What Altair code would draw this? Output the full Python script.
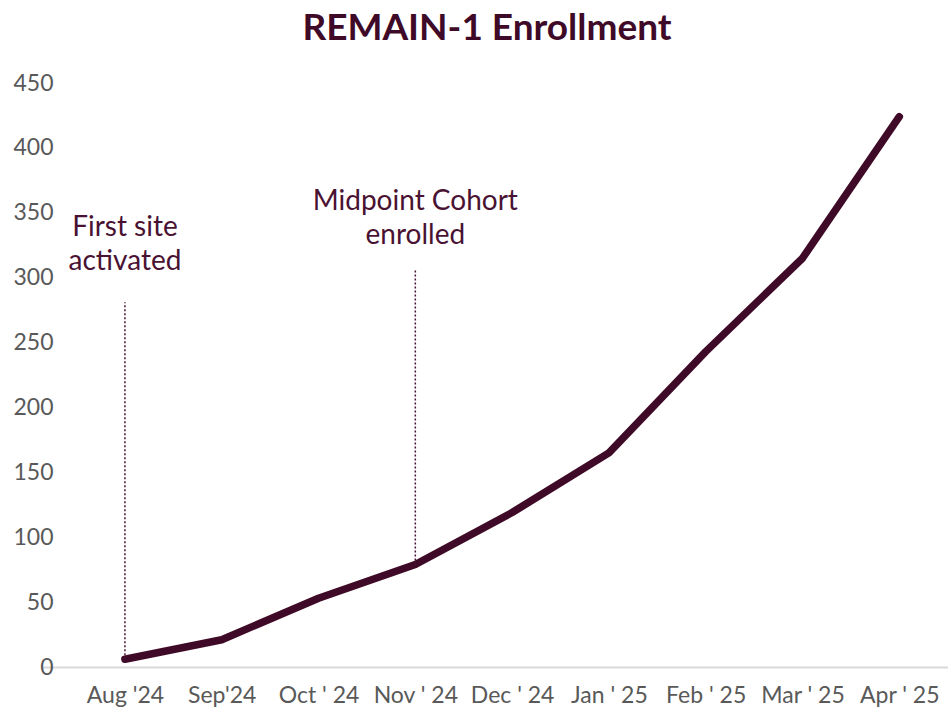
import altair as alt
import pandas as pd

# Monthly cumulative enrollment
months = ["Aug '24", "Sep'24", "Oct ' 24", "Nov ' 24", "Dec ' 24",
          "Jan ' 25", "Feb ' 25", "Mar ' 25", "Apr ' 25"]
enrolled = [6, 21, 53, 79, 119, 165, 243, 315, 424]

# Milestone annotations
note_months = ["Aug '24", "Nov ' 24"]
note_texts = [["First site", "activated"], ["Midpoint Cohort", "enrolled"]]
note_text_y = [338, 358]
note_rule_bottom = [6, 79]
note_rule_top = [281, 306]

MAROON = "#3E0A27"
TEXT_MAROON = "#4A1232"
FONT = "Lato"

df = pd.DataFrame({"month": months, "enrolled": enrolled})
notes = pd.DataFrame({
    "month": note_months,
    "label": note_texts,
    "ty": note_text_y,
    "y0": note_rule_bottom,
    "y1": note_rule_top,
})

x_scale = alt.Scale(type="point", padding=0.68, align=0.63)
x_axis = alt.Axis(
    title=None, labelAngle=0, ticks=False, grid=False,
    domain=True, domainColor="#D9D9D9", domainWidth=2,
    labelFont=FONT, labelFontSize=23, labelColor="#595959",
    labelPadding=17,
)
y_scale = alt.Scale(domain=[0, 450], nice=False)
y_axis = alt.Axis(
    title=None, values=list(range(0, 451, 50)), ticks=False,
    domain=False, grid=False, labelFont=FONT, labelFontSize=23,
    labelColor="#595959", offset=-16, labelPadding=5,
)

line = alt.Chart(df).mark_line(
    color=MAROON, strokeWidth=7.5, strokeCap="round", strokeJoin="round"
).encode(
    x=alt.X("month:N", sort=months, scale=x_scale, axis=x_axis),
    y=alt.Y("enrolled:Q", scale=y_scale, axis=y_axis),
)

rules = alt.Chart(notes).mark_rule(
    color=TEXT_MAROON, strokeWidth=1.5, strokeDash=[2, 2]
).encode(
    x=alt.X("month:N", sort=months, scale=x_scale, axis=x_axis),
    y=alt.Y("y0:Q", scale=y_scale, axis=y_axis),
    y2="y1:Q",
)

labels = alt.Chart(notes).mark_text(
    font=FONT, fontSize=28, color=TEXT_MAROON, align="center",
    baseline="middle", lineHeight=34,
).encode(
    x=alt.X("month:N", sort=months, scale=x_scale, axis=x_axis),
    y=alt.Y("ty:Q", scale=y_scale, axis=y_axis),
    text="label",
)

chart = alt.layer(line, rules, labels).properties(
    width=906,
    height=584,
    autosize=alt.AutoSizeParams(type="none"),
    padding={"left": 42, "top": 83, "right": 0, "bottom": 42},
    title=alt.Title(
        "REMAIN-1 Enrollment", font=FONT, fontSize=37, fontWeight="bold",
        color=MAROON, anchor="middle", offset=24, dx=-8,
    ),
).configure(background="white").configure_view(stroke=None).configure_axis(grid=False)

chart.save("out.html", embed_options={"renderer": "svg", "actions": False})
